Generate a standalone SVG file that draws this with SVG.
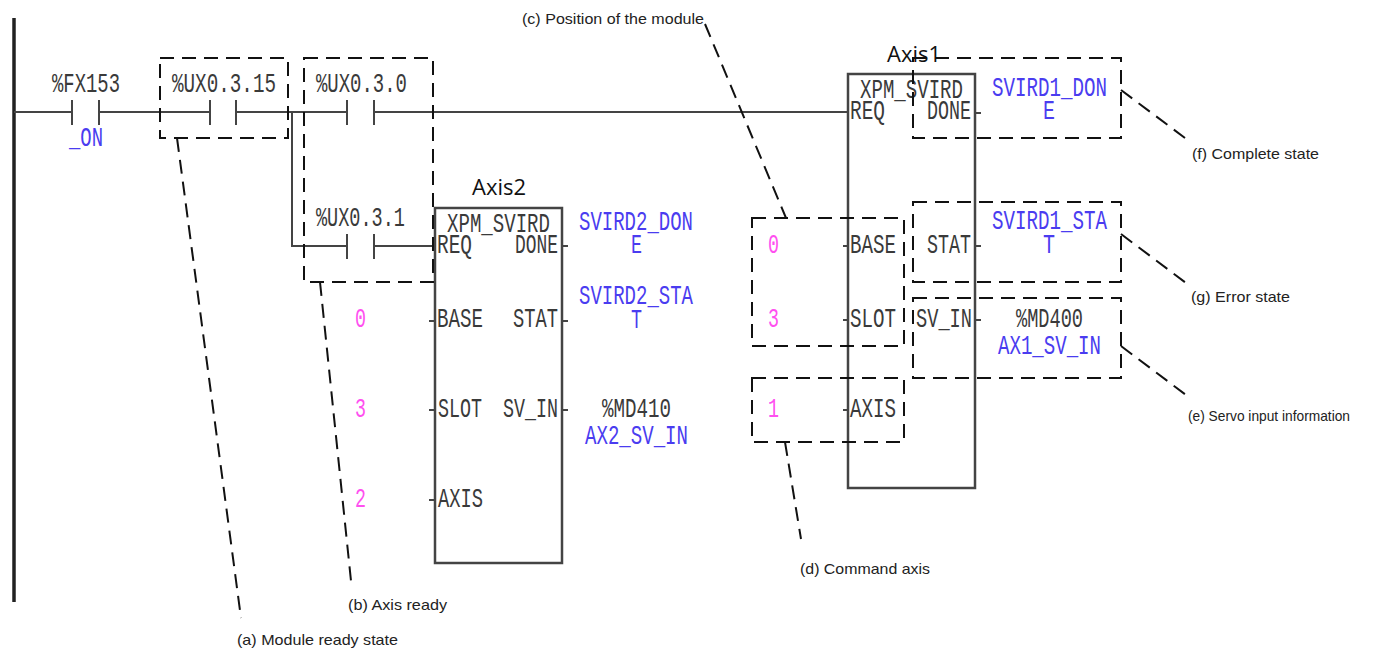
<svg xmlns="http://www.w3.org/2000/svg" width="1392" height="648" viewBox="0 0 1392 648">
<style>
text{font-family:"Liberation Mono","DejaVu Sans Mono",monospace}
.k,.b,.m{font-size:27px}
.k{fill:#3a3a3a}.b{fill:#4a3cf0}.m{fill:#ff50f0}
.a{font-family:"Open Sans","Liberation Sans",sans-serif;font-size:22px;fill:#111}
.n{font-family:"Liberation Sans",Arial,sans-serif;font-size:14.5px;fill:#222}
.w{fill:none;stroke:#444;stroke-width:2}
.fb{fill:none;stroke:#444;stroke-width:2.5}
.d{fill:none;stroke:#111;stroke-width:2;stroke-dasharray:14 8}
.rail{fill:none;stroke:#222;stroke-width:3.5}
</style>
<g id="connectors">
<path class="rail" d="M14 18V602"/>
<path class="w" d="M14 112H72M72 100V125M99 100V125M99 112H210M210 100V125M236 100V125M236 112H347M347 100V125M374 100V125M374 112H848"/>
<path class="w" d="M292 112V246H347M347 234V259M374 234V259M374 246H435"/>
<path class="w" d="M562 246H568M429 321H435M562 321H568M429 410H435M562 410H568M429 500H435"/>
<path class="w" d="M975 113H981M843 246H848M975 246H981M843 320H848M975 320H981M843 410H848"/>
</g>
<g id="contact-fx153">
<text class="k" x="52" y="92" textLength="68" lengthAdjust="spacingAndGlyphs">%FX153</text>
<text class="b" x="69" y="146" textLength="34" lengthAdjust="spacingAndGlyphs">_ON</text>
</g>
<g id="contact-ux0-3-15"><text class="k" x="172" y="92" textLength="104" lengthAdjust="spacingAndGlyphs">%UX0.3.15</text></g>
<g id="contact-ux0-3-0"><text class="k" x="316" y="92" textLength="91" lengthAdjust="spacingAndGlyphs">%UX0.3.0</text></g>
<g id="contact-ux0-3-1"><text class="k" x="316" y="226" textLength="89" lengthAdjust="spacingAndGlyphs">%UX0.3.1</text></g>
<g id="block-axis2">
<rect class="fb" x="435" y="208" width="127" height="355"/>
<text class="a" x="472" y="195">Axis2</text>
<text class="k" x="447" y="232" textLength="103" lengthAdjust="spacingAndGlyphs">XPM_SVIRD</text>
<text class="k" x="437" y="253" textLength="35" lengthAdjust="spacingAndGlyphs">REQ</text>
<text class="k" x="515" y="253" textLength="43" lengthAdjust="spacingAndGlyphs">DONE</text>
<text class="k" x="437" y="327" textLength="46" lengthAdjust="spacingAndGlyphs">BASE</text>
<text class="k" x="513" y="327" textLength="45" lengthAdjust="spacingAndGlyphs">STAT</text>
<text class="k" x="438" y="417" textLength="44" lengthAdjust="spacingAndGlyphs">SLOT</text>
<text class="k" x="503" y="417" textLength="55" lengthAdjust="spacingAndGlyphs">SV_IN</text>
<text class="k" x="438" y="507" textLength="45" lengthAdjust="spacingAndGlyphs">AXIS</text>
<text class="b" x="579" y="230" textLength="114" lengthAdjust="spacingAndGlyphs">SVIRD2_DON</text>
<text class="b" x="631" y="253" textLength="11" lengthAdjust="spacingAndGlyphs">E</text>
<text class="b" x="579" y="304" textLength="114" lengthAdjust="spacingAndGlyphs">SVIRD2_STA</text>
<text class="b" x="631" y="328" textLength="11" lengthAdjust="spacingAndGlyphs">T</text>
<text class="k" x="602" y="417" textLength="69" lengthAdjust="spacingAndGlyphs">%MD410</text>
<text class="b" x="585" y="444" textLength="103" lengthAdjust="spacingAndGlyphs">AX2_SV_IN</text>
<text class="m" x="355" y="327" textLength="11" lengthAdjust="spacingAndGlyphs">0</text>
<text class="m" x="355" y="417" textLength="11" lengthAdjust="spacingAndGlyphs">3</text>
<text class="m" x="355" y="507" textLength="11" lengthAdjust="spacingAndGlyphs">2</text>
</g>
<g id="block-axis1">
<rect class="fb" x="848" y="74" width="127" height="414"/>
<text class="a" x="887" y="62">Axis1</text>
<text class="k" x="860" y="98" textLength="103" lengthAdjust="spacingAndGlyphs">XPM_SVIRD</text>
<text class="k" x="850" y="119" textLength="35" lengthAdjust="spacingAndGlyphs">REQ</text>
<text class="k" x="927" y="119" textLength="44" lengthAdjust="spacingAndGlyphs">DONE</text>
<text class="k" x="850" y="253" textLength="46" lengthAdjust="spacingAndGlyphs">BASE</text>
<text class="k" x="927" y="253" textLength="44" lengthAdjust="spacingAndGlyphs">STAT</text>
<text class="k" x="850" y="327" textLength="46" lengthAdjust="spacingAndGlyphs">SLOT</text>
<text class="k" x="916" y="327" textLength="56" lengthAdjust="spacingAndGlyphs">SV_IN</text>
<text class="k" x="850" y="417" textLength="46" lengthAdjust="spacingAndGlyphs">AXIS</text>
<text class="b" x="992" y="96" textLength="115" lengthAdjust="spacingAndGlyphs">SVIRD1_DON</text>
<text class="b" x="1043" y="119" textLength="12" lengthAdjust="spacingAndGlyphs">E</text>
<text class="b" x="992" y="229" textLength="115" lengthAdjust="spacingAndGlyphs">SVIRD1_STA</text>
<text class="b" x="1043" y="253" textLength="12" lengthAdjust="spacingAndGlyphs">T</text>
<text class="k" x="1016" y="327" textLength="67" lengthAdjust="spacingAndGlyphs">%MD400</text>
<text class="b" x="998" y="354" textLength="103" lengthAdjust="spacingAndGlyphs">AX1_SV_IN</text>
<text class="m" x="768" y="253" textLength="11" lengthAdjust="spacingAndGlyphs">0</text>
<text class="m" x="768" y="327" textLength="11" lengthAdjust="spacingAndGlyphs">3</text>
<text class="m" x="768" y="417" textLength="11" lengthAdjust="spacingAndGlyphs">1</text>
</g>
<g id="callouts">
<rect class="d" x="160" y="58" width="128" height="80"/>
<rect class="d" x="304" y="58" width="129" height="224"/>
<rect class="d" x="913" y="58" width="208" height="80"/>
<rect class="d" x="913" y="202" width="208" height="80"/>
<rect class="d" x="913" y="298" width="208" height="80"/>
<rect class="d" x="752" y="218" width="152" height="128"/>
<rect class="d" x="752" y="378" width="152" height="64"/>
<path class="d" d="M177 138L241 618"/>
<path class="d" d="M320 282L351 581"/>
<path class="d" d="M705 24L786 218"/>
<path class="d" d="M785 442L801 539"/>
<path class="d" d="M1121 90L1185 138"/>
<path class="d" d="M1121 234L1186 283"/>
<path class="d" d="M1121 346L1186 395"/>
</g>
<g id="labels">
<text class="n" x="522" y="24" textLength="182" lengthAdjust="spacingAndGlyphs">(c) Position of the module</text>
<text class="n" x="1192" y="159" textLength="127" lengthAdjust="spacingAndGlyphs">(f) Complete state</text>
<text class="n" x="1191" y="302" textLength="99" lengthAdjust="spacingAndGlyphs">(g) Error state</text>
<text class="n" x="1188" y="421" textLength="162" lengthAdjust="spacingAndGlyphs">(e) Servo input information</text>
<text class="n" x="800" y="574" textLength="130" lengthAdjust="spacingAndGlyphs">(d) Command axis</text>
<text class="n" x="348" y="610" textLength="99" lengthAdjust="spacingAndGlyphs">(b) Axis ready</text>
<text class="n" x="237" y="645" textLength="161" lengthAdjust="spacingAndGlyphs">(a) Module ready state</text>
</g>
</svg>
